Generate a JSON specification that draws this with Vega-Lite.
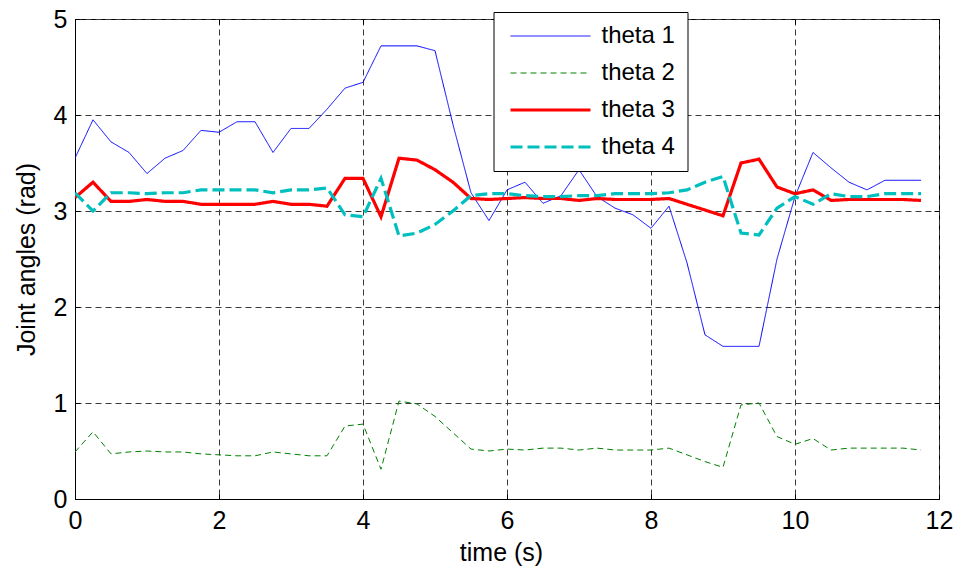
{
  "$schema": "https://vega.github.io/schema/vega-lite/v6.json",
  "width": 864,
  "height": 480,
  "autosize": {"type": "none"},
  "padding": {"left": 75, "top": 19, "right": 22, "bottom": 73},
  "background": "white",
  "config": {
    "view": {"stroke": "black", "strokeWidth": 1},
    "font": "Liberation Sans",
    "axis": {
      "labelFont": "Liberation Sans",
      "labelFontSize": 25,
      "labelColor": "black",
      "titleFont": "Liberation Sans",
      "titleFontSize": 25,
      "titleFontWeight": "normal",
      "titleColor": "black",
      "domainColor": "black",
      "tickColor": "black",
      "gridColor": "#3a3a3a",
      "gridDash": [6, 4],
      "gridWidth": 1,
      "gridOpacity": 1
    },
    "legend": {
      "orient": "none",
      "legendX": 418.5,
      "legendY": -7,
      "strokeColor": "black",
      "fillColor": "white",
      "padding": 12,
      "symbolType": "M-4,0H4",
      "symbolSize": 400,
      "symbolOffset": 33,
      "labelFont": "Liberation Sans",
      "labelFontSize": 24,
      "labelColor": "black",
      "labelOffset": 39,
      "rowPadding": 13
    }
  },
  "data": {
    "values": [
      {"t": 0.00, "theta 1": 3.55, "theta 2": 0.49, "theta 3": 3.14, "theta 4": 3.19},
      {"t": 0.25, "theta 1": 3.95, "theta 2": 0.70, "theta 3": 3.30, "theta 4": 3.00},
      {"t": 0.50, "theta 1": 3.72, "theta 2": 0.47, "theta 3": 3.10, "theta 4": 3.19},
      {"t": 0.75, "theta 1": 3.61, "theta 2": 0.49, "theta 3": 3.10, "theta 4": 3.19},
      {"t": 1.00, "theta 1": 3.39, "theta 2": 0.50, "theta 3": 3.12, "theta 4": 3.18},
      {"t": 1.25, "theta 1": 3.55, "theta 2": 0.49, "theta 3": 3.10, "theta 4": 3.19},
      {"t": 1.50, "theta 1": 3.63, "theta 2": 0.49, "theta 3": 3.10, "theta 4": 3.19},
      {"t": 1.75, "theta 1": 3.84, "theta 2": 0.47, "theta 3": 3.07, "theta 4": 3.22},
      {"t": 2.00, "theta 1": 3.82, "theta 2": 0.46, "theta 3": 3.07, "theta 4": 3.22},
      {"t": 2.25, "theta 1": 3.93, "theta 2": 0.45, "theta 3": 3.07, "theta 4": 3.22},
      {"t": 2.50, "theta 1": 3.93, "theta 2": 0.45, "theta 3": 3.07, "theta 4": 3.22},
      {"t": 2.75, "theta 1": 3.61, "theta 2": 0.49, "theta 3": 3.10, "theta 4": 3.19},
      {"t": 3.00, "theta 1": 3.86, "theta 2": 0.47, "theta 3": 3.07, "theta 4": 3.22},
      {"t": 3.25, "theta 1": 3.86, "theta 2": 0.45, "theta 3": 3.07, "theta 4": 3.22},
      {"t": 3.50, "theta 1": 4.06, "theta 2": 0.45, "theta 3": 3.05, "theta 4": 3.24},
      {"t": 3.75, "theta 1": 4.28, "theta 2": 0.76, "theta 3": 3.34, "theta 4": 2.96},
      {"t": 4.00, "theta 1": 4.34, "theta 2": 0.78, "theta 3": 3.34, "theta 4": 2.94},
      {"t": 4.25, "theta 1": 4.72, "theta 2": 0.31, "theta 3": 2.94, "theta 4": 3.34},
      {"t": 4.50, "theta 1": 4.72, "theta 2": 1.02, "theta 3": 3.55, "theta 4": 2.74},
      {"t": 4.75, "theta 1": 4.72, "theta 2": 0.99, "theta 3": 3.53, "theta 4": 2.77},
      {"t": 5.00, "theta 1": 4.67, "theta 2": 0.86, "theta 3": 3.43, "theta 4": 2.86},
      {"t": 5.25, "theta 1": 3.90, "theta 2": 0.69, "theta 3": 3.30, "theta 4": 3.00},
      {"t": 5.50, "theta 1": 3.19, "theta 2": 0.52, "theta 3": 3.13, "theta 4": 3.16},
      {"t": 5.75, "theta 1": 2.90, "theta 2": 0.50, "theta 3": 3.12, "theta 4": 3.18},
      {"t": 6.00, "theta 1": 3.22, "theta 2": 0.52, "theta 3": 3.13, "theta 4": 3.18},
      {"t": 6.25, "theta 1": 3.30, "theta 2": 0.51, "theta 3": 3.14, "theta 4": 3.16},
      {"t": 6.50, "theta 1": 3.08, "theta 2": 0.53, "theta 3": 3.13, "theta 4": 3.15},
      {"t": 6.75, "theta 1": 3.16, "theta 2": 0.53, "theta 3": 3.13, "theta 4": 3.15},
      {"t": 7.00, "theta 1": 3.43, "theta 2": 0.51, "theta 3": 3.11, "theta 4": 3.16},
      {"t": 7.25, "theta 1": 3.15, "theta 2": 0.53, "theta 3": 3.13, "theta 4": 3.16},
      {"t": 7.50, "theta 1": 3.03, "theta 2": 0.51, "theta 3": 3.12, "theta 4": 3.18},
      {"t": 7.75, "theta 1": 2.96, "theta 2": 0.51, "theta 3": 3.12, "theta 4": 3.18},
      {"t": 8.00, "theta 1": 2.82, "theta 2": 0.51, "theta 3": 3.12, "theta 4": 3.18},
      {"t": 8.25, "theta 1": 3.05, "theta 2": 0.53, "theta 3": 3.13, "theta 4": 3.19},
      {"t": 8.50, "theta 1": 2.46, "theta 2": 0.46, "theta 3": 3.07, "theta 4": 3.22},
      {"t": 8.75, "theta 1": 1.71, "theta 2": 0.39, "theta 3": 3.01, "theta 4": 3.30},
      {"t": 9.00, "theta 1": 1.59, "theta 2": 0.33, "theta 3": 2.95, "theta 4": 3.36},
      {"t": 9.25, "theta 1": 1.59, "theta 2": 0.98, "theta 3": 3.50, "theta 4": 2.77},
      {"t": 9.50, "theta 1": 1.59, "theta 2": 1.00, "theta 3": 3.54, "theta 4": 2.75},
      {"t": 9.75, "theta 1": 2.50, "theta 2": 0.65, "theta 3": 3.25, "theta 4": 3.03},
      {"t": 10.00, "theta 1": 3.15, "theta 2": 0.57, "theta 3": 3.18, "theta 4": 3.15},
      {"t": 10.25, "theta 1": 3.61, "theta 2": 0.63, "theta 3": 3.22, "theta 4": 3.07},
      {"t": 10.50, "theta 1": 3.45, "theta 2": 0.51, "theta 3": 3.11, "theta 4": 3.18},
      {"t": 10.75, "theta 1": 3.30, "theta 2": 0.53, "theta 3": 3.12, "theta 4": 3.15},
      {"t": 11.00, "theta 1": 3.22, "theta 2": 0.53, "theta 3": 3.12, "theta 4": 3.15},
      {"t": 11.25, "theta 1": 3.32, "theta 2": 0.53, "theta 3": 3.12, "theta 4": 3.18},
      {"t": 11.50, "theta 1": 3.32, "theta 2": 0.53, "theta 3": 3.12, "theta 4": 3.18},
      {"t": 11.75, "theta 1": 3.32, "theta 2": 0.51, "theta 3": 3.11, "theta 4": 3.18}
    ]
  },
  "transform": [
    {"fold": ["theta 1", "theta 2", "theta 3", "theta 4"], "as": ["series", "angle"]}
  ],
  "resolve": {"axis": {"x": "independent", "y": "independent"}},
  "layer": [
    {
      "mark": {"type": "line", "clip": true},
      "encoding": {
        "x": {
          "field": "t", "type": "quantitative",
          "scale": {"domain": [0, 12], "nice": false, "zero": false},
          "axis": {
            "orient": "bottom", "title": "time (s)", "values": [0, 2, 4, 6, 8, 10, 12],
            "grid": true, "tickSize": -5, "labelPadding": 14, "titlePadding": 7,
            "titleX": 426, "labelFlush": false
          }
        },
        "y": {
          "field": "angle", "type": "quantitative",
          "scale": {"domain": [0, 5], "nice": false},
          "axis": {
            "orient": "left", "title": "Joint angles (rad)", "values": [0, 1, 2, 3, 4, 5],
            "grid": true, "tickSize": -5, "labelPadding": 13, "titlePadding": 14,
            "labelFlush": false
          }
        },
        "color": {
          "field": "series", "type": "nominal", "title": null,
          "scale": {"domain": ["theta 1", "theta 2", "theta 3", "theta 4"], "range": ["#0000ff", "#008000", "#ff0000", "#00bfbf"]}
        },
        "strokeDash": {
          "field": "series", "type": "nominal", "title": null,
          "scale": {"domain": ["theta 1", "theta 2", "theta 3", "theta 4"], "range": [[1, 0], [6, 4], [1, 0], [12, 5]]}
        },
        "strokeWidth": {
          "field": "series", "type": "nominal", "title": null,
          "scale": {"type": "ordinal", "domain": ["theta 1", "theta 2", "theta 3", "theta 4"], "range": [1, 1, 3.2, 3.2]}
        }
      }
    },
    {
      "mark": {"type": "line", "opacity": 0},
      "encoding": {
        "x": {
          "field": "t", "type": "quantitative",
          "scale": {"domain": [0, 12], "nice": false, "zero": false},
          "axis": {"orient": "top", "title": null, "labels": false, "grid": false, "domain": false, "tickSize": -5, "values": [0, 2, 4, 6, 8, 10, 12]}
        },
        "y": {
          "field": "angle", "type": "quantitative",
          "scale": {"domain": [0, 5], "nice": false},
          "axis": {"orient": "right", "title": null, "labels": false, "grid": false, "domain": false, "tickSize": -5, "values": [0, 1, 2, 3, 4, 5]}
        },
        "detail": {"field": "series", "type": "nominal"}
      }
    }
  ]
}
